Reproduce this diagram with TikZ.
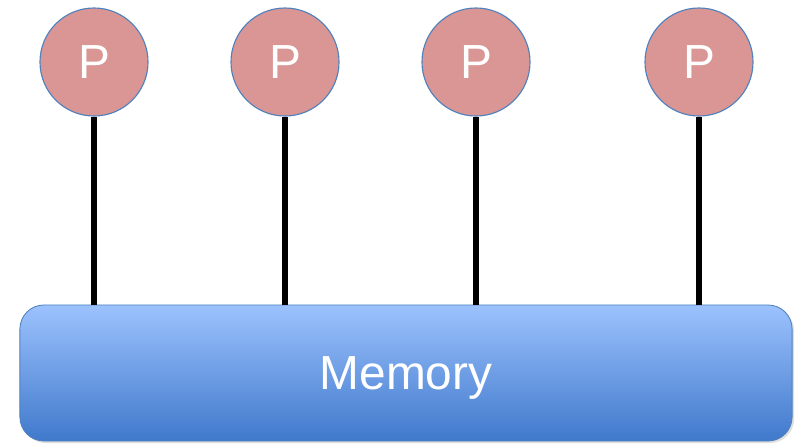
\documentclass[tikz,border=0pt]{standalone}
\usepackage{fontspec}
\setmainfont{Liberation Sans}
\usetikzlibrary{shadows}

\definecolor{procfill}{HTML}{D99694}
\definecolor{rimblue}{HTML}{4F81BD}
\definecolor{memtop}{HTML}{9CC2FE}
\definecolor{membot}{HTML}{4079CB}

\begin{document}
\begin{tikzpicture}[x=0.025cm,y=-0.025cm, semithick]
  \tikzstyle{proc}=[circle,fill=procfill,draw=rimblue,thick,minimum size=2.7cm,inner sep=0pt,text=white,font=\fontsize{34}{40}\selectfont]
  \tikzstyle{mem}=[rounded corners=0.6cm,draw=rimblue,top color=memtop,bottom color=membot,text=white,text depth=0pt,font=\fontsize{34}{40}\selectfont,drop shadow={opacity=0.25,shadow xshift=0.05cm,shadow yshift=-0.05cm}]
  \tikzstyle{bus}=[line width=3.6pt,black]
  \useasboundingbox (0,0) rectangle (802,443);

  \node[proc] (P1) at (94,62) {P};
  \node[proc] (P2) at (285,62) {P};
  \node[proc] (P3) at (476,62) {P};
  \node[proc] (P4) at (699,62) {P};

  \node[mem,minimum width=19.3cm,minimum height=3.4cm] (M) at (406,373) {Memory};

  \foreach \p in {P1,P2,P3,P4}
    \draw[bus] (\p.south) -- (\p.south |- M.north);
\end{tikzpicture}
\end{document}
